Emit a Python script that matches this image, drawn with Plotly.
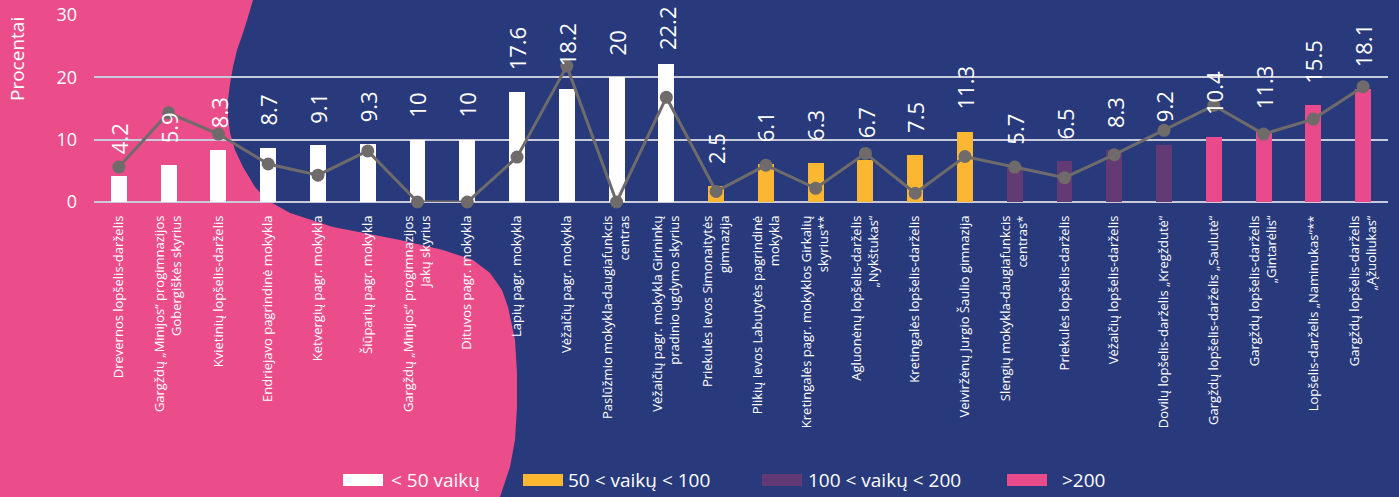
import plotly.graph_objects as go

# ---------------- data ----------------
cat_lt50 = [
    "Drevernos lopšelis-darželis",
    "Gargždų „Minijos“ progimnazijos<br>Gobergiškės skyrius",
    "Kvietinių lopšelis-darželis",
    "Endriejavo pagrindinė mokykla",
    "Ketvergių pagr. mokykla",
    "Šiūparių pagr. mokykla",
    "Gargždų „Minijos“ progimnazijos<br>Jakų skyrius",
    "Dituvos pagr. mokykla",
    "Lapių pagr. mokykla",
    "Vėžaičių pagr. mokykla",
    "Paslūžmio mokykla-daugiafunkcis<br>centras",
    "Vėžaičių pagr. mokykla Girininkų<br>pradinio ugdymo skyrius",
]
val_lt50 = [4.2, 5.9, 8.3, 8.7, 9.1, 9.3, 10, 10, 17.6, 18.2, 20, 22.2]

cat_50_100 = [
    "Priekulės Ievos Simonaitytės<br>gimnazija",
    "Plikių Ievos Labutytės pagrindinė<br>mokykla",
    "Kretingalės pagr. mokyklos Girkalių<br>skyrius**",
    "Agluonėnų lopšelis-darželis<br>„Nykštukas“",
    "Kretingalės lopšelis-darželis",
    "Veiviržėnų Jurgio Šaulio gimnazija",
]
val_50_100 = [2.5, 6.1, 6.3, 6.7, 7.5, 11.3]

cat_100_200 = [
    "Slengių mokykla-daugiafunkcis<br>centras*",
    "Priekulės lopšelis-darželis",
    "Vėžaičių lopšelis-darželis",
    "Dovilų lopšelis-darželis „Kregždutė“",
]
val_100_200 = [5.7, 6.5, 8.3, 9.2]

cat_gt200 = [
    "Gargždų lopšelis-darželis „Saulutė“",
    "Gargždų lopšelis-darželis<br>„Gintarėlis“",
    "Lopšelis-darželis „Naminukas“**",
    "Gargždų lopšelis-darželis<br>„Ąžuoliukas“",
]
val_gt200 = [10.4, 11.3, 15.5, 18.1]

# grey line series (one value per category, in category order)
line_values = [5.6, 14.3, 10.9, 6.1, 4.3, 8.2, 0, 0, 7.2, 21.8, 0, 16.8,
               1.7, 5.9, 2.2, 7.8, 1.4, 7.3,
               5.6, 3.9, 7.6, 11.5,
               15.5, 10.9, 13.3, 18.5]

group_names = ["< 50 vaikų", "50 < vaikų < 100", "100 < vaikų < 200", ">200"]
y_ticks = [0, 10, 20, 30]
y_title = "Procentai"

# ---------------- style ----------------
W, H = 1399, 497
ML, MR, MT, MB = 94, 11, 15, 295
Y_MAX = 30
NAVY = "#283A7C"
PINK_BG = "#EB4D8B"
BAR_COLORS = ["#FFFFFF", "#FBB731", "#633A74", "#E94A8B"]
LINE_COLOR = "#6F6B6A"
GRID = "#C9CADC"
FONT = "Open Sans"
LABEL_SIZE = 22
LABEL_GAP = 20

pw = W - ML - MR
ph = H - MT - MB


def fx(x):
    return (x - ML) / pw


def fy(y):
    return (H - MB - y) / ph


def label_shift(v, text):
    """gap above the bar, reduced if the rotated label would leave the figure"""
    bar_top_px = MT + ph * (1 - v / Y_MAX)
    est_len = LABEL_SIZE * (0.572 * sum(ch.isdigit() for ch in text)
                            + 0.27 * text.count(".")) + 4
    return max(4, min(LABEL_GAP, bar_top_px - est_len - 4))


groups = [(cat_lt50, val_lt50), (cat_50_100, val_50_100),
          (cat_100_200, val_100_200), (cat_gt200, val_gt200)]
all_cats = [c for g in groups for c in g[0]]

fig = go.Figure()
for (cats, vals), name, col in zip(groups, group_names, BAR_COLORS):
    fig.add_trace(go.Bar(x=cats, y=vals, name=name, marker_color=col,
                         marker_line_width=0, width=0.32, showlegend=False))

fig.add_trace(go.Scatter(x=all_cats, y=line_values, mode="lines+markers",
                         line=dict(color=LINE_COLOR, width=3),
                         marker=dict(color=LINE_COLOR, size=13),
                         showlegend=False, cliponaxis=False))

annotations = []
for cats, vals in groups:
    for c, v in zip(cats, vals):
        t = f"{v:g}"
        annotations.append(dict(x=c, y=v, xref="x", yref="y", text=t,
                                textangle=-90, yanchor="bottom", xanchor="center",
                                yshift=label_shift(v, t), showarrow=False,
                                font=dict(family=FONT, size=LABEL_SIZE, color="white")))

annotations.append(dict(x=fx(17), y=fy(59), xref="paper", yref="paper",
                        text=y_title, textangle=-90, showarrow=False,
                        xanchor="center", yanchor="middle",
                        font=dict(family=FONT, size=19, color="white")))

# pink background blob (decoration), pixel outline converted to paper coords
blob = [(-3, -3), (253, -3), (253, 0), (248, 17), (243, 33), (237, 50), (233, 67),
        (230, 84), (228, 100), (228, 117), (230, 133), (235, 150), (243, 167),
        (255, 187), (267, 200), (290, 213), (333, 227), (400, 240), (443, 250),
        (473, 260), (490, 273), (502, 290), (508, 307), (515, 340), (517, 373),
        (517, 407), (515, 440), (510, 467), (500, 497), (499, 500), (-3, 500)]
path = "M " + " L ".join(f"{fx(x):.5f},{fy(y):.5f}" for x, y in blob) + " Z"
shapes = [dict(type="path", path=path, xref="paper", yref="paper",
               fillcolor=PINK_BG, line_width=0, layer="below")]

# custom legend
legend_box_x = [343, 523, 762, 1007]
legend_text_x = [389, 566, 806, 1060]
for bx, tx, name, col in zip(legend_box_x, legend_text_x, group_names, BAR_COLORS):
    shapes.append(dict(type="rect", xref="paper", yref="paper",
                       x0=fx(bx), x1=fx(bx + 40), y0=fy(486), y1=fy(474),
                       fillcolor=col, line_width=0))
    annotations.append(dict(x=fx(tx), y=fy(480), xref="paper", yref="paper",
                            text=name, showarrow=False, xanchor="left",
                            yanchor="middle",
                            font=dict(family=FONT, size=19, color="white")))

fig.update_layout(
    width=W, height=H, autosize=False,
    margin=dict(l=ML, r=MR, t=MT, b=MB, pad=0, autoexpand=False),
    paper_bgcolor=NAVY, plot_bgcolor="rgba(0,0,0,0)",
    barmode="overlay", bargap=0,
    shapes=shapes, annotations=annotations,
    font=dict(family=FONT, color="white"),
    showlegend=False,
)
fig.update_xaxes(categoryorder="array", categoryarray=all_cats,
                 range=[-0.5, len(all_cats) - 0.5],
                 tickangle=-90, tickfont=dict(family=FONT, size=13, color="white"),
                 showgrid=False, showline=False, zeroline=False, automargin=False,
                 ticks="", ticklabelstandoff=10)
fig.update_yaxes(range=[0, Y_MAX], tickvals=y_ticks, showgrid=True,
                 gridcolor=GRID, gridwidth=1.5, zeroline=True, automargin=False,
                 zerolinecolor=GRID, zerolinewidth=1.5, showline=False,
                 tickfont=dict(family=FONT, size=18, color="white"),
                 ticks="", ticklabelstandoff=16)

fig.write_html("out.html",
               config={"displayModeBar": False},
               post_script="document.body.style.margin='0';"
                           "document.body.style.overflow='hidden';")
